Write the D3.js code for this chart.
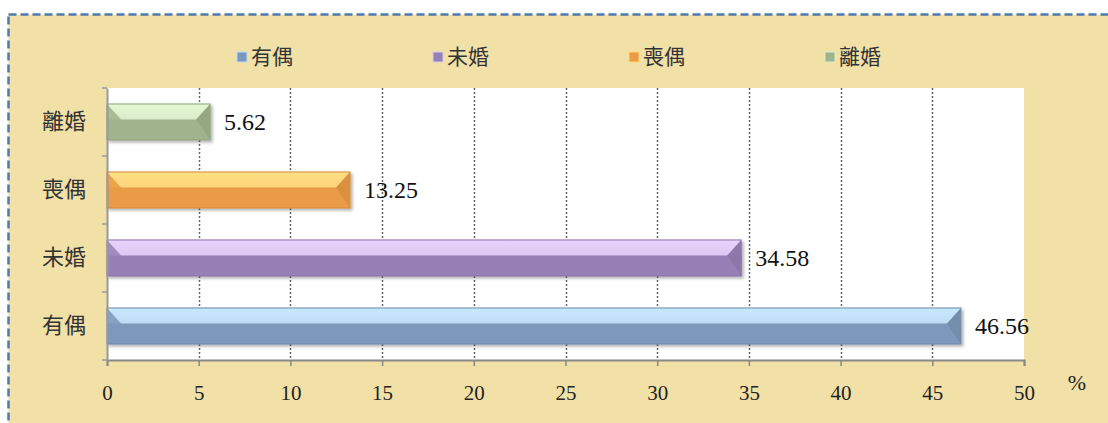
<!DOCTYPE html>
<html>
<head>
<meta charset="utf-8">
<script src="https://cdn.jsdelivr.net/npm/d3@7"></script>
<style>
  body { margin: 0; background: #fff; }
  svg { display: block; }
</style>
</head>
<body>
<script>
// data
var categories = ["有偶", "未婚", "喪偶", "離婚"];
var values = [46.56, 34.58, 13.25, 5.62];
var xTicks = [0, 5, 10, 15, 20, 25, 30, 35, 40, 45, 50];
var barColors = [
  { light: "#bedcf7", dark: "#7b98ba", edge: "#6c8ab0" },
  { light: "#dcc8f3", dark: "#9880b6", edge: "#8a72aa" },
  { light: "#fdd47c", dark: "#e99c45", edge: "#d5893a" },
  { light: "#d9ebc9", dark: "#a1b38d", edge: "#8ea07b" }
];

var W = 1108, H = 423;
var margin = { top: 88, right: 84, bottom: 63, left: 107 },
    width = W - margin.left - margin.right,
    height = H - margin.top - margin.bottom;

var svg = d3.select("body").append("svg")
    .attr("width", W)
    .attr("height", H);

// outer frame
svg.append("rect")
    .attr("x", 8.5).attr("y", 14.5)
    .attr("width", W + 20).attr("height", H + 20)
    .attr("fill", "#f2e1a6")
    .attr("stroke", "#4f7bab")
    .attr("stroke-width", 2.5)
    .attr("stroke-dasharray", "8,4");

var defs = svg.append("defs");
barColors.forEach(function (c, i) {
  var gr = defs.append("linearGradient").attr("id", "g" + i)
      .attr("x1", 0).attr("y1", 0).attr("x2", 0).attr("y2", 1);
  gr.append("stop").attr("offset", "0").attr("stop-color", d3.color(c.light).brighter(0.15));
  gr.append("stop").attr("offset", "0.42").attr("stop-color", c.light);
  gr.append("stop").attr("offset", "0.44").attr("stop-color", c.dark);
  gr.append("stop").attr("offset", "1").attr("stop-color", c.dark);
});
var sh = defs.append("filter").attr("id", "sh").attr("x", "-5%").attr("y", "-30%").attr("width", "110%").attr("height", "170%");
sh.append("feDropShadow").attr("dx", 2).attr("dy", 2).attr("stdDeviation", 1.5).attr("flood-color", "#000").attr("flood-opacity", 0.3);

var g = svg.append("g").attr("transform", "translate(" + margin.left + "," + margin.top + ")");

var x = d3.scaleLinear().domain([0, 50]).range([0, width]);
var y = d3.scaleBand().domain(categories).range([height, 0]).paddingInner(0.47).paddingOuter(0.235);

// plot area
g.append("rect").attr("width", width).attr("height", height).attr("fill", "#fff");

// grid
g.selectAll(".grid").data(xTicks.slice(1, -1)).enter().append("line")
    .attr("x1", function (d) { return Math.round(x(d)) + 0.5; })
    .attr("x2", function (d) { return Math.round(x(d)) + 0.5; })
    .attr("y1", 0).attr("y2", height)
    .attr("stroke", "#666")
    .attr("stroke-width", 1.5)
    .attr("stroke-dasharray", "2,2");

// bars
var bars = g.selectAll(".bar").data(categories).enter().append("g")
    .attr("filter", "url(#sh)");
bars.append("rect")
    .attr("x", 0)
    .attr("y", function (d) { return y(d); })
    .attr("width", function (d, i) { return x(values[i]); })
    .attr("height", y.bandwidth())
    .attr("fill", function (d, i) { return "url(#g" + i + ")"; })
    .attr("stroke", function (d, i) { return barColors[i].edge; })
    .attr("stroke-width", 1);
// bevel ends
var bev = 14;
bars.append("path")
    .attr("d", function (d, i) {
      var y0 = y(d), bh = y.bandwidth();
      return "M0," + y0 + "L" + bev + "," + (y0 + bh * 0.43) + "L0," + (y0 + bh) + "Z";
    })
    .attr("fill", function (d, i) { return barColors[i].dark; })
    .attr("opacity", 0.85);
bars.append("path")
    .attr("d", function (d, i) {
      var y0 = y(d), bh = y.bandwidth(), xe = x(values[i]);
      return "M" + xe + "," + y0 + "L" + (xe - bev) + "," + (y0 + bh * 0.43) + "L" + xe + "," + (y0 + bh) + "Z";
    })
    .attr("fill", function (d, i) { return d3.color(barColors[i].dark).darker(0.2); });

// value labels
g.selectAll(".val").data(categories).enter().append("text")
    .attr("x", function (d, i) { return x(values[i]) + 14; })
    .attr("y", function (d) { return y(d) + y.bandwidth() / 2; })
    .attr("dy", "0.35em")
    .attr("font-family", "Liberation Serif, serif")
    .attr("font-size", 24)
    .attr("fill", "#111")
    .text(function (d, i) { return values[i].toFixed(2); });

// x axis
var xa = g.append("g")
    .attr("transform", "translate(0," + height + ")")
    .call(d3.axisBottom(x).tickValues(xTicks).tickSize(6).tickPadding(19));
xa.select(".domain").attr("stroke", "#888").attr("stroke-width", 2);
xa.selectAll(".tick line").attr("stroke", "#888").attr("stroke-width", 1.5);
xa.selectAll("text")
    .attr("font-family", "Liberation Serif, serif")
    .attr("font-size", 21)
    .attr("fill", "#222");

// y axis
var ya = g.append("g").call(d3.axisLeft(y).tickSize(0).tickPadding(21));
ya.select(".domain").attr("stroke", "#999").attr("stroke-width", 2);
ya.selectAll("text")
    .attr("font-family", "Noto Sans CJK TC, sans-serif")
    .attr("font-size", 22)
    .attr("fill", "#333");
var bounds = d3.range(categories.length + 1).map(function (k) { return height - k * y.step(); });
g.selectAll(".ytick").data(bounds).enter().append("line")
    .attr("x1", -5).attr("x2", 0)
    .attr("y1", function (d) { return d; }).attr("y2", function (d) { return d; })
    .attr("stroke", "#999").attr("stroke-width", 1.5);

// unit
svg.append("text")
    .attr("x", 1077).attr("y", 390)
    .attr("text-anchor", "middle")
    .attr("font-family", "Liberation Serif, serif")
    .attr("font-size", 22)
    .attr("fill", "#222")
    .text("%");

// legend
var legend = svg.append("g").attr("transform", "translate(0,57)");
var li = legend.selectAll(".lg").data(categories).enter().append("g")
    .attr("transform", function (d, i) { return "translate(" + (237 + i * 196) + ",0)"; });
li.append("rect")
    .attr("x", 0).attr("y", -5)
    .attr("width", 10).attr("height", 10)
    .attr("fill", function (d, i) { return barColors[i].dark; })
    .attr("stroke", function (d, i) { return barColors[i].light; })
    .attr("stroke-width", 1);
li.append("text")
    .attr("x", 14).attr("dy", "0.35em")
    .attr("font-family", "Noto Sans CJK TC, sans-serif")
    .attr("font-size", 21)
    .attr("fill", "#333")
    .text(function (d) { return d; });
</script>
</body>
</html>
